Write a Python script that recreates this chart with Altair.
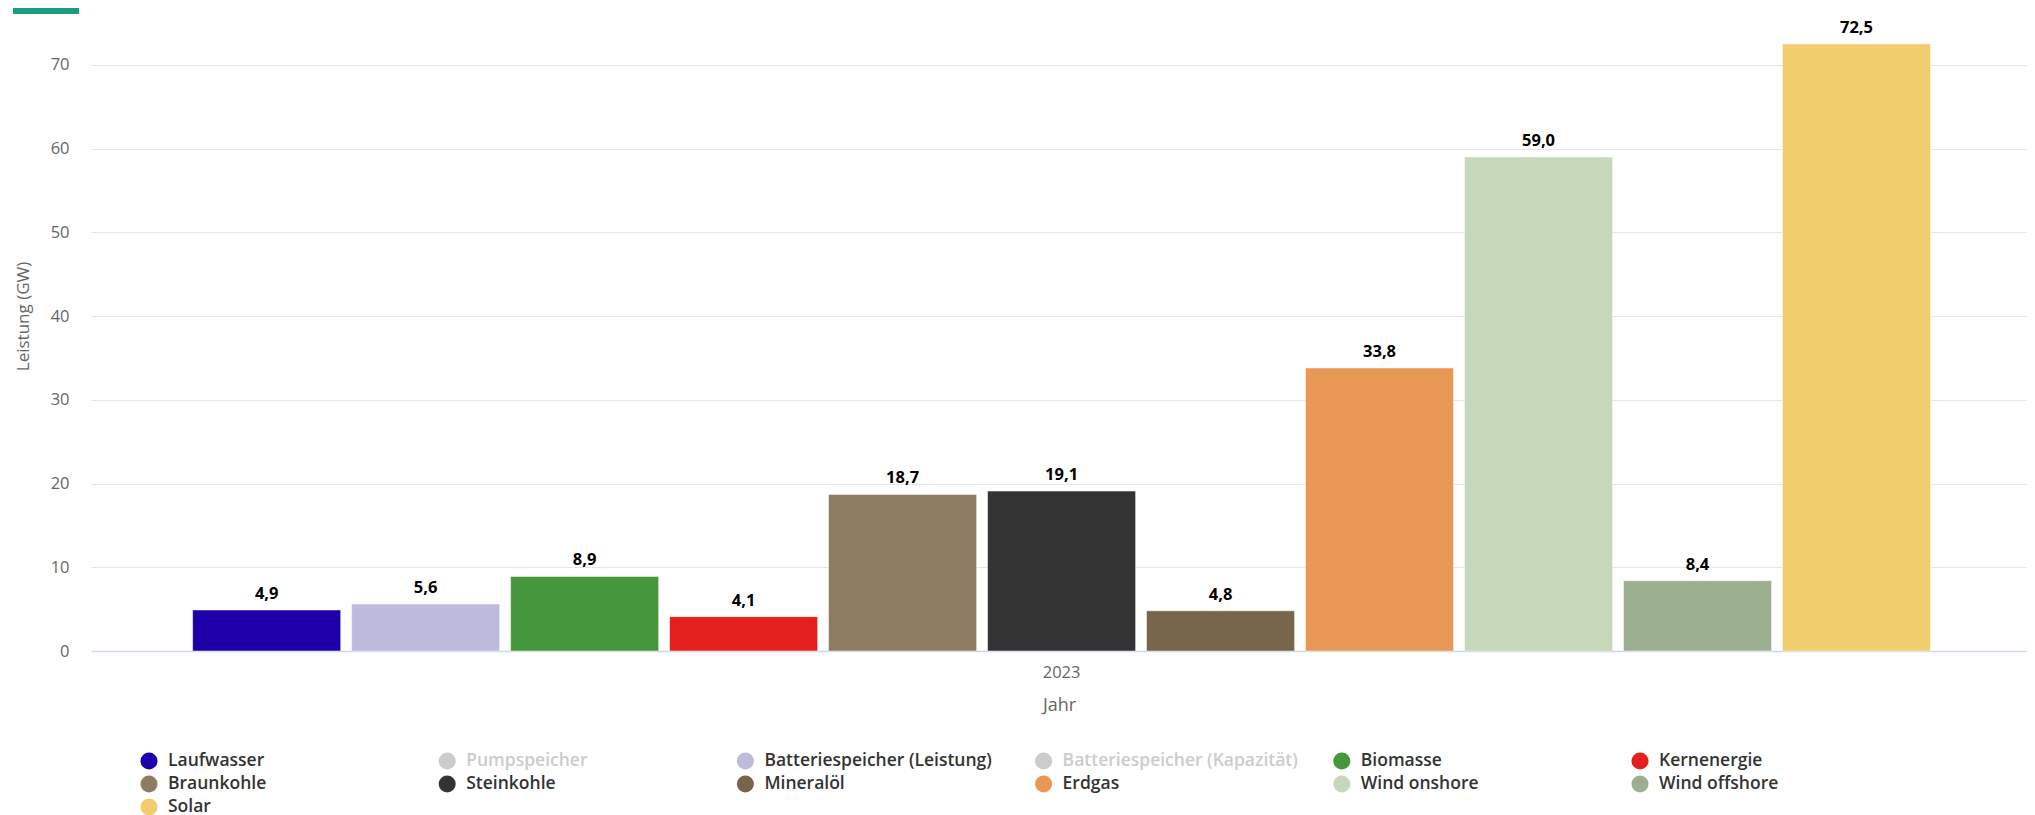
import altair as alt
import pandas as pd

FONT = "Open Sans"

jahr = "2023"
quellen = [
    "Laufwasser", "Pumpspeicher", "Batteriespeicher (Leistung)",
    "Batteriespeicher (Kapazität)", "Biomasse", "Kernenergie",
    "Braunkohle", "Steinkohle", "Mineralöl", "Erdgas",
    "Wind onshore", "Wind offshore", "Solar",
]
# None = series hidden in the legend (not drawn)
werte = [4.9, None, 5.6, None, 8.9, 4.1, 18.7, 19.1, 4.8, 33.8, 59.0, 8.4, 72.5]
farben = [
    "#1d00aa", "#cccccc", "#bdbadb", "#cccccc", "#46963c", "#e3201c",
    "#8e7c62", "#333333", "#77664b", "#e89854", "#c6d8b9", "#9daf91", "#f1cd6e",
]
y_ticks = [0, 10, 20, 30, 40, 50, 60, 70]
legend_cols = 6

# ---- bar data (visible series only)
sicht = [i for i, v in enumerate(werte) if v is not None]
bars_df = pd.DataFrame({
    "Jahr": [jahr] * len(sicht),
    "Quelle": [quellen[i] for i in sicht],
    "Wert": [werte[i] for i in sicht],
})
vis_names = [quellen[i] for i in sicht]
vis_cols = [farben[i] for i in sicht]

PLOT_W = 1936
PLOT_H = 628

x_enc = alt.X("Jahr:N", title="Jahr",
              scale=alt.Scale(paddingInner=0, paddingOuter=0.057, align=0.513),
              axis=alt.Axis(labelAngle=0, labelColor="#666666", labelFontSize=16.5,
                            labelFont=FONT, labelPadding=13, ticks=False, tickSize=0,
                            domainColor="#ccd6eb", domainWidth=1.5, grid=False,
                            titleColor="#666666", titleFontSize=18, titleFont=FONT,
                            titleFontWeight="normal", titlePadding=16))
xo_enc = alt.XOffset("Quelle:N", sort=vis_names,
                     scale=alt.Scale(paddingInner=0.0686, paddingOuter=0))
y_enc = alt.Y("Wert:Q", title="Leistung (GW)",
              scale=alt.Scale(domain=[0, 75], nice=False),
              axis=alt.Axis(values=y_ticks, labelColor="#666666", labelFontSize=16.5,
                            labelFont=FONT, labelPadding=22, ticks=False, domain=False,
                            gridColor="#e6e6e6", gridWidth=1.2,
                            titleColor="#666666", titleFontSize=17, titleFont=FONT,
                            titleFontWeight="normal", titleX=-68, titleY=293,
                            titleBaseline="middle", titleAngle=270))

bars = alt.Chart(bars_df).mark_bar(stroke="white", strokeWidth=0.5).encode(
    x=x_enc, xOffset=xo_enc, y=y_enc,
    color=alt.Color("Quelle:N", scale=alt.Scale(domain=vis_names, range=vis_cols), legend=None),
)

labels = alt.Chart(bars_df).transform_calculate(
    txt="replace(format(datum.Wert, '.1f'), '.', ',')"
).mark_text(baseline="alphabetic", dy=-11, font=FONT, fontSize=16.5,
            fontWeight="bold", color="#000000").encode(
    x=alt.X("Jahr:N"), xOffset=alt.XOffset("Quelle:N", sort=vis_names), y="Wert:Q",
    text="txt:N",
)

deko = alt.Chart(alt.Data(values=[{"a": 1}])).mark_rect(color="#1a9e7f").encode(
    x=alt.value(-78), x2=alt.value(-12), y=alt.value(-15), y2=alt.value(-9)
)

main = alt.layer(bars, labels, deko).properties(width=PLOT_W, height=PLOT_H)

# ---- legend built from the same arrays
leg_df = pd.DataFrame({
    "quelle": quellen,
    "col": [i % legend_cols for i in range(len(quellen))],
    "row": [i // legend_cols for i in range(len(quellen))],
    "farbe": [farben[i] if werte[i] is not None else "#cccccc" for i in range(len(quellen))],
    "textfarbe": ["#333333" if werte[i] is not None else "#cccccc" for i in range(len(quellen))],
})
LEG_H = 94
col_px0, col_step = 58.0, 298.2
row_px0, row_step = 46.0, 23.0
xa = -col_px0 / col_step
xb = xa + PLOT_W / col_step
ya = -row_px0 / row_step
yb = ya + LEG_H / row_step

leg_base = alt.Chart(leg_df).encode(
    x=alt.X("col:Q", scale=alt.Scale(domain=[xa, xb], nice=False, zero=False), axis=None),
    y=alt.Y("row:Q", scale=alt.Scale(domain=[ya, yb], nice=False, zero=False, reverse=True), axis=None),
)
leg_dots = leg_base.mark_circle(size=290, opacity=1).encode(
    color=alt.Color("farbe:N", scale=None))
leg_text = leg_base.mark_text(align="left", baseline="middle", dx=19, font=FONT,
                              fontSize=17.5, fontWeight=600).encode(
    text="quelle:N", color=alt.Color("textfarbe:N", scale=None))
legend = alt.layer(leg_dots, leg_text).properties(width=PLOT_W, height=LEG_H)

chart = alt.vconcat(main, legend, spacing=0).properties(
    padding={"top": 0, "left": 5, "right": 0, "bottom": 0}
).configure(font=FONT).configure_view(strokeWidth=0, stroke=None)

chart.save("out.html", embed_options={"renderer": "svg", "actions": False})
